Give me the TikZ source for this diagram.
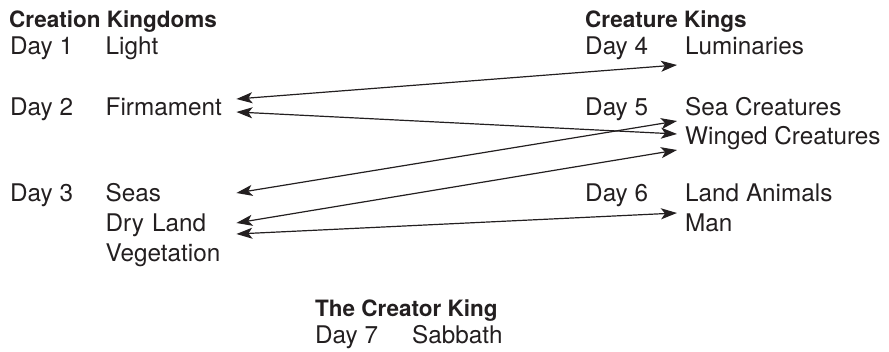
\documentclass[tikz,border=0pt]{standalone}
\usepackage{fontspec}
\setmainfont{TeX Gyre Heros}
\usetikzlibrary{arrows.meta,calc}
\definecolor{ink}{HTML}{231F20}
\tikzset{
	heading/.style={
		anchor=base west,
		inner sep=0pt,
		font=\fontsize{22.5}{27}\selectfont\bfseries
	},
	daylabel/.style={
		anchor=base west,
		inner sep=0pt
	},
	kingdom/.style={
		anchor=base west,
		inner sep=0pt,
		text width=130.5pt
	},
	creature/.style={
		anchor=base west,
		inner sep=0pt
	},
	link/.style={
		<->,
		>={Stealth[length=16pt,width=11pt,inset=4pt]},
		line width=1.2pt,
		draw=ink
	}
}
\begin{document}
\begin{tikzpicture}[x=1pt,y=-1pt,font=\fontsize{24.3}{29}\selectfont,text=ink]
\useasboundingbox (0,0) rectangle (889,352);
% creation kingdoms
\node [heading] (CreationKingdoms) at (9,28) {Creation Kingdoms};
\node [daylabel] (Day1) at (10,55) {Day 1};
\node [kingdom] (Light) at (105.5,55) {Light};
\node [daylabel] (Day2) at (10,116) {Day 2};
\node [kingdom] (Firmament) at (105.5,116) {Firmament};
\node [daylabel] (Day3) at (10,202) {Day 3};
\node [kingdom] (Seas) at (105.5,202) {Seas};
\node [kingdom] (DryLand) at ([yshift=-30pt]Seas.base west) {Dry Land};
\node [kingdom] (Vegetation) at ([yshift=-30pt]DryLand.base west) {Vegetation};
% creature kings
\node [heading] (CreatureKings) at (585,28) {Creature Kings};
\node [daylabel] (Day4) at (585,55) {Day 4};
\node [creature] (Luminaries) at (685,55) {Luminaries};
\node [daylabel] (Day5) at (585,116) {Day 5};
\node [creature] (SeaCreatures) at (685,116) {Sea Creatures};
\node [creature] (WingedCreatures) at ([yshift=-29pt]SeaCreatures.base west) {Winged Creatures};
\node [daylabel] (Day6) at (585,202) {Day 6};
\node [creature] (LandAnimals) at (685,202) {Land Animals};
\node [creature] (Man) at ([yshift=-30pt]LandAnimals.base west) {Man};
% the creator king
\node [heading] (CreatorKing) at (315,317) {The Creator King};
\node [daylabel] (Day7) at (315,344) {Day 7};
\node [creature] (Sabbath) at (412,344) {Sabbath};
% kingdom <-> king
\draw [link] ($(Firmament.base east)+(0,-17)$) -- ($(Luminaries.base west)+(-8,10)$);
\draw [link] ($(Firmament.base east)+(0,-4)$) -- ($(WingedCreatures.base west)+(-8,-11)$);
\draw [link] ($(Seas.base east)+(0,-9)$) -- ($(SeaCreatures.base west)+(-8,5)$);
\draw [link] ($(DryLand.base east)+(0,-9)$) -- ($(WingedCreatures.base west)+(-8,5)$);
\draw [link] ($(DryLand.base east)+(0,2)$) -- ($(LandAnimals.base west)+(-8,11)$);
\end{tikzpicture}
\end{document}
